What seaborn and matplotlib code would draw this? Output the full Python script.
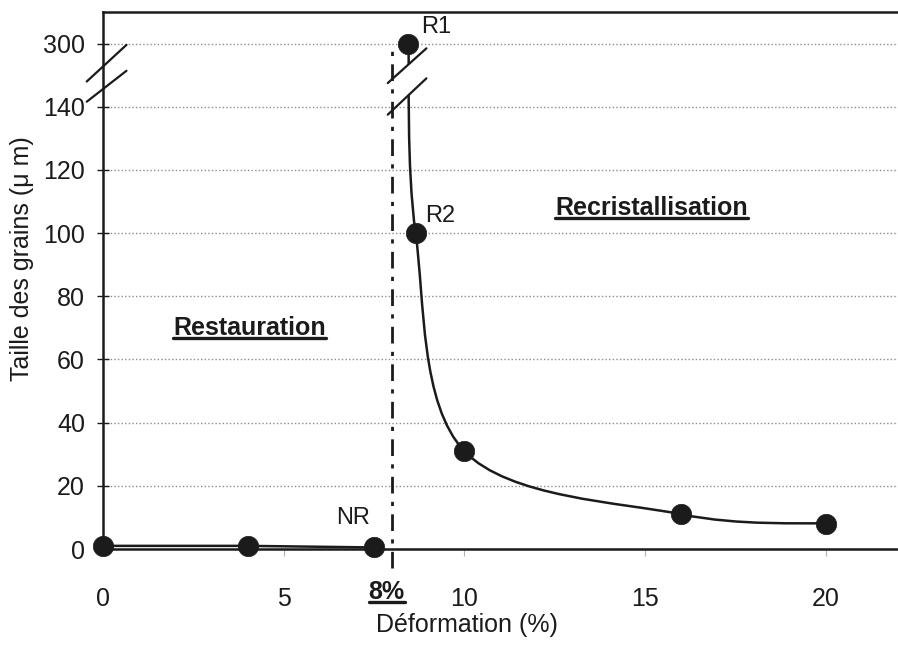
import numpy as np
import pandas as pd
import matplotlib
matplotlib.use("Agg")
import matplotlib.pyplot as plt
import seaborn as sns
from matplotlib.path import Path
from matplotlib.patches import PathPatch, Polygon
from matplotlib.lines import Line2D
from matplotlib.transforms import IdentityTransform
from matplotlib.ticker import FixedLocator, FixedFormatter

# Restoration branch (strain below the critical value)
restauration_deformation = [0, 4, 7.5]
restauration_taille = [1, 1, 0.5]

# Recrystallisation branch
recrist_deformation = [8.45, 8.65, 10, 16, 20]
recrist_taille = [300, 100, 31, 11, 8]

# Named points
label_r1 = "R1"
label_r2 = "R2"
label_nr = "NR"

critical_strain = 8
critical_label = "8%"

x_ticks = [0, 5, 10, 15, 20]
y_ticks = [0, 20, 40, 60, 80, 100, 120, 140, 300]
y_tick_labels = ["0", "20", "40", "60", "80", "100", "120", "140", "300"]

zone_left = "Restauration"
zone_right = "Recristallisation"
x_title = "Déformation (%)"
y_title = "Taille des grains (μ m)"

# Broken y axis: linear up to 140, compressed above
BREAK = 140.0
SQUEEZE = 8.0


def fwd(y):
    y = np.asarray(y, dtype=float)
    return np.where(y <= BREAK, y, BREAK + (y - BREAK) / SQUEEZE)


def inv(s):
    s = np.asarray(s, dtype=float)
    return np.where(s <= BREAK, s, BREAK + (s - BREAK) * SQUEEZE)


sns.set_theme(style="white")
plt.rcParams["font.family"] = ["Liberation Sans", "DejaVu Sans"]

INK = "#1b1b1b"
FS = 18

fig = plt.figure(figsize=(8.98, 6.45), dpi=100)
ax = fig.add_axes([0.1147, 0.1488, 1.0 - 0.1147, 0.9814 - 0.1488])
ax.set_yscale("function", functions=(fwd, inv))
ax.set_xlim(0, 22)
ax.set_ylim(0, float(inv(170)))

# dotted horizontal grid
ax.yaxis.set_major_locator(FixedLocator(y_ticks))
ax.yaxis.set_major_formatter(FixedFormatter(y_tick_labels))
ax.yaxis.set_minor_locator(FixedLocator([]))
ax.set_xticks(x_ticks)
ax.set_xticklabels([str(t) for t in x_ticks])
ax.grid(axis="y", linestyle=(0, (1, 1.6)), color="#8c8c8c", linewidth=1.0)
ax.grid(axis="x", visible=False)

for side in ("left", "bottom", "top"):
    ax.spines[side].set_color(INK)
    ax.spines[side].set_linewidth(1.8)
ax.spines["right"].set_visible(False)

ax.tick_params(axis="y", which="major", direction="inout", length=8, width=1.0,
               color=INK, pad=9, labelsize=FS, labelcolor=INK, left=True)
ax.tick_params(axis="x", which="major", direction="out", length=5, width=0.8,
               color="#b0b0b0", pad=22, labelsize=FS, labelcolor=INK, bottom=True)

# restoration branch: straight segments
df_rest = pd.DataFrame({"d": restauration_deformation, "t": restauration_taille})
sns.lineplot(data=df_rest, x="d", y="t", ax=ax, color=INK, linewidth=1.8,
             sort=False, estimator=None, legend=False)

# recrystallisation branch: smoothed curve built in scaled coordinates
scaled = ax.transLimits + ax.transAxes
pts = np.column_stack([np.asarray(recrist_deformation, float), fwd(recrist_taille)])
n = len(pts)
verts = [pts[0]]
codes = [Path.MOVETO]
for i in range(n - 1):
    p0 = pts[max(i - 1, 0)]
    p1 = pts[i]
    p2 = pts[i + 1]
    p3 = pts[min(i + 2, n - 1)]
    c1 = p1 + (p2 - p0) / 6.0
    c2 = p2 - (p3 - p1) / 6.0
    verts += [c1, c2, p2]
    codes += [Path.CURVE4] * 3
curve = PathPatch(Path(np.array(verts), codes), facecolor="none", edgecolor=INK,
                  linewidth=1.8, transform=scaled, zorder=3)
ax.add_patch(curve)

# critical strain marker line
ax.plot([critical_strain, critical_strain], [-6, 300], color=INK, linewidth=2.0,
        linestyle=(0, (6, 3, 1.5, 3)), clip_on=False, zorder=2)

# break symbols: on the y axis and on the curve
def break_pair(x_lo, x_hi, s_low_a, s_low_b, s_up_a, s_up_b, gap=False):
    if gap:
        xa, xb = 8.3, 8.8
        k_low = (s_low_b - s_low_a) / (x_hi - x_lo)
        k_up = (s_up_b - s_up_a) / (x_hi - x_lo)
        poly = Polygon([[xa, s_low_a + k_low * (xa - x_lo)],
                        [xb, s_low_a + k_low * (xb - x_lo)],
                        [xb, s_up_a + k_up * (xb - x_lo)],
                        [xa, s_up_a + k_up * (xa - x_lo)]],
                       closed=True, facecolor="white", edgecolor="none",
                       transform=scaled, zorder=4)
        ax.add_patch(poly)
    for sa, sb in ((s_low_a, s_low_b), (s_up_a, s_up_b)):
        ax.add_line(Line2D([x_lo, x_hi], [sa, sb], color=INK, linewidth=1.6,
                           transform=scaled, clip_on=False, zorder=5))


break_pair(-0.45, 0.65, 141.6, 151.4, 148.0, 159.6)
break_pair(7.88, 8.95, 137.5, 149.0, 147.5, 158.5, gap=True)

# markers
df_pts = pd.DataFrame({
    "d": restauration_deformation + recrist_deformation,
    "t": restauration_taille + recrist_taille,
})
sns.scatterplot(data=df_pts, x="d", y="t", ax=ax, s=215, color=INK,
                edgecolor=INK, linewidth=0.5, legend=False, zorder=6,
                clip_on=False)

# point names
ax.annotate(label_r1, (recrist_deformation[0], recrist_taille[0]),
            xytext=(20, 12), textcoords="offset points", ha="center",
            va="center", fontsize=FS - 1, color=INK)
ax.annotate(label_r2, (recrist_deformation[1], recrist_taille[1]),
            xytext=(18, 12), textcoords="offset points", ha="center",
            va="center", fontsize=FS - 1, color=INK)
ax.annotate(label_nr, (restauration_deformation[2], restauration_taille[2]),
            xytext=(-15, 21), textcoords="offset points", ha="center",
            va="center", fontsize=FS - 1, color=INK)

# zone titles (bold, underlined)
t_left = ax.text(4.06, 70, zone_left, ha="center", va="center", fontsize=FS,
                 fontweight="bold", color=INK)
t_right = ax.text(15.17, 108, zone_right, ha="center", va="center",
                  fontsize=FS, fontweight="bold", color=INK)
t_crit = ax.text(critical_strain - 0.15, -13.6, critical_label, ha="center",
                 va="center", fontsize=FS, fontweight="bold", color=INK,
                 clip_on=False)

ax.set_xlabel(x_title, fontsize=FS, color=INK)
ax.xaxis.label.set_va("center")
ax.xaxis.set_label_coords(0.458, -0.1415)
ax.set_ylabel(y_title, fontsize=FS, color=INK)
ax.yaxis.label.set_va("center")
ax.yaxis.set_label_coords(-0.102, 0.54)

# underline the bold labels
fig.canvas.draw()
renderer = fig.canvas.get_renderer()
for t in (t_left, t_right, t_crit):
    bb = t.get_window_extent(renderer)
    y = bb.y0 + 1.5
    fig.add_artist(Line2D([bb.x0, bb.x1], [y, y], color=INK, linewidth=2.4,
                          transform=IdentityTransform()))

fig.savefig("out.png", dpi=100, facecolor="white")
